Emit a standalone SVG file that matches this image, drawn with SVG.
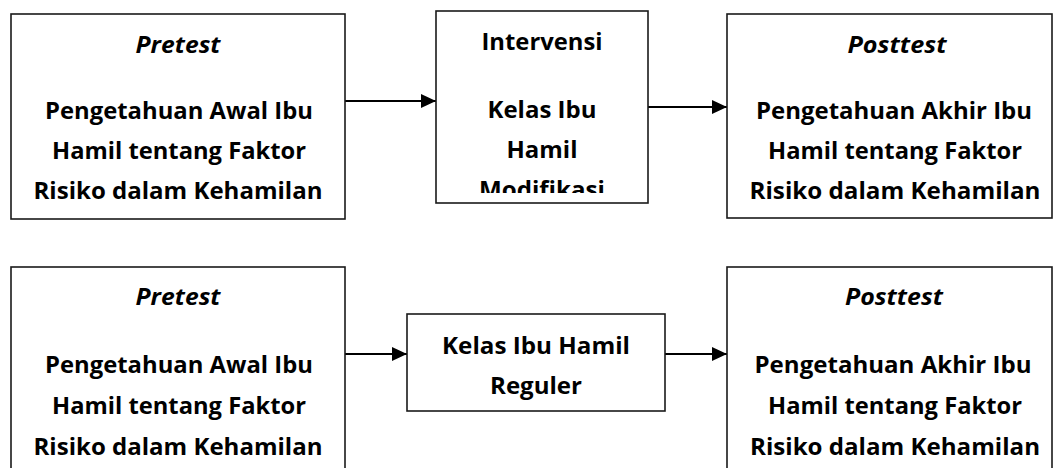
<svg xmlns="http://www.w3.org/2000/svg" width="1064" height="468" viewBox="0 0 1064 468">
<style>
.box{fill:#fff;stroke:#1a1a1a;stroke-width:1.6}
.t{font-family:"Open Sans","Liberation Sans",sans-serif;font-weight:bold;font-size:23px;fill:#000;text-anchor:middle}
.i{font-style:italic}
.c{stroke:#000;stroke-width:2;fill:none}
</style>
<defs>
<marker id="ah" markerWidth="15" markerHeight="14" refX="15" refY="7" orient="auto" markerUnits="userSpaceOnUse">
<path d="M0,0 L15,7 L0,14 Z" fill="#000"/>
</marker>
<clipPath id="clip2"><rect x="437" y="12" width="210" height="181"/></clipPath>
</defs>
<rect width="1064" height="468" fill="#fff"/>
<g id="connectors">
<line class="c" x1="345" y1="101" x2="436" y2="101" marker-end="url(#ah)"/>
<line class="c" x1="648" y1="107" x2="727" y2="107" marker-end="url(#ah)"/>
<line class="c" x1="345" y1="354" x2="407" y2="354" marker-end="url(#ah)"/>
<line class="c" x1="665" y1="354" x2="727" y2="354" marker-end="url(#ah)"/>
</g>
<g id="pretest1">
<rect class="box" x="11" y="14" width="334" height="205"/>
<text class="t i" x="178" y="53" textLength="85" lengthAdjust="spacingAndGlyphs">Pretest</text>
<text class="t" x="179" y="119" textLength="268" lengthAdjust="spacingAndGlyphs">Pengetahuan Awal Ibu</text>
<text class="t" x="179" y="159" textLength="254" lengthAdjust="spacingAndGlyphs">Hamil tentang Faktor</text>
<text class="t" x="178" y="199" textLength="289" lengthAdjust="spacingAndGlyphs">Risiko dalam Kehamilan</text>
</g>
<g id="intervensi">
<rect class="box" x="436" y="11" width="212" height="192"/>
<g clip-path="url(#clip2)">
<text class="t" x="542" y="50" textLength="121" lengthAdjust="spacingAndGlyphs">Intervensi</text>
<text class="t" x="542" y="118" textLength="109" lengthAdjust="spacingAndGlyphs">Kelas Ibu</text>
<text class="t" x="542" y="158" textLength="71" lengthAdjust="spacingAndGlyphs">Hamil</text>
<text class="t" x="542" y="198" textLength="126" lengthAdjust="spacingAndGlyphs">Modifikasi</text>
</g>
</g>
<g id="posttest1">
<rect class="box" x="727" y="14" width="325" height="204"/>
<text class="t i" x="897" y="53" textLength="99" lengthAdjust="spacingAndGlyphs">Posttest</text>
<text class="t" x="894" y="119" textLength="276" lengthAdjust="spacingAndGlyphs">Pengetahuan Akhir Ibu</text>
<text class="t" x="895" y="159" textLength="254" lengthAdjust="spacingAndGlyphs">Hamil tentang Faktor</text>
<text class="t" x="895" y="199" textLength="291" lengthAdjust="spacingAndGlyphs">Risiko dalam Kehamilan</text>
</g>
<g id="pretest2">
<rect class="box" x="11" y="267" width="334" height="215"/>
<text class="t i" x="178" y="305" textLength="85" lengthAdjust="spacingAndGlyphs">Pretest</text>
<text class="t" x="179" y="373" textLength="268" lengthAdjust="spacingAndGlyphs">Pengetahuan Awal Ibu</text>
<text class="t" x="179" y="414" textLength="254" lengthAdjust="spacingAndGlyphs">Hamil tentang Faktor</text>
<text class="t" x="178" y="455" textLength="289" lengthAdjust="spacingAndGlyphs">Risiko dalam Kehamilan</text>
</g>
<g id="reguler">
<rect class="box" x="407" y="314" width="258" height="97"/>
<text class="t" x="536" y="354" textLength="188" lengthAdjust="spacingAndGlyphs">Kelas Ibu Hamil</text>
<text class="t" x="536" y="394" textLength="92" lengthAdjust="spacingAndGlyphs">Reguler</text>
</g>
<g id="posttest2">
<rect class="box" x="727" y="267" width="325" height="215"/>
<text class="t i" x="894" y="305" textLength="98" lengthAdjust="spacingAndGlyphs">Posttest</text>
<text class="t" x="893" y="373" textLength="277" lengthAdjust="spacingAndGlyphs">Pengetahuan Akhir Ibu</text>
<text class="t" x="895" y="414" textLength="254" lengthAdjust="spacingAndGlyphs">Hamil tentang Faktor</text>
<text class="t" x="895" y="455" textLength="290" lengthAdjust="spacingAndGlyphs">Risiko dalam Kehamilan</text>
</g>
</svg>
